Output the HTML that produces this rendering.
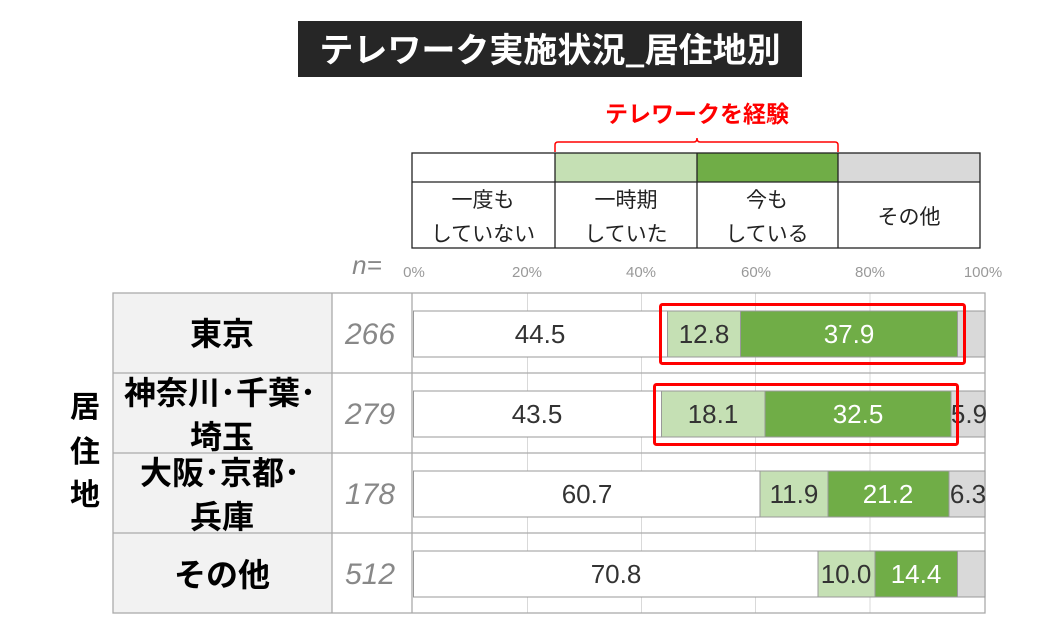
<!DOCTYPE html>
<html><head><meta charset="utf-8"><style>
html,body{margin:0;padding:0;background:#fff;}
svg{display:block;}
.jp{font-family:"Liberation Sans","Noto Sans CJK JP",sans-serif;}
</style></head><body>
<svg width="1053" height="629" viewBox="0 0 1053 629" xmlns="http://www.w3.org/2000/svg" class="jp">
<rect x="298" y="21" width="504" height="56" fill="#262626"/>
<text x="550" y="62" text-anchor="middle" font-size="34" font-weight="bold" fill="#fff" font-family="Noto Sans CJK JP, sans-serif">テレワーク実施状況_居住地別</text>
<text x="697" y="122" text-anchor="middle" font-size="23" font-weight="bold" fill="#f00" font-family="Noto Sans CJK JP, sans-serif">テレワークを経験</text>
<path d="M555,152 L555,145 Q555,142 558,142 L694,142 Q697,142 697,138 Q697,142 700,142 L835,142 Q838,142 838,145 L838,152" fill="none" stroke="#f00" stroke-width="1.5"/>
<rect x="412" y="153" width="143" height="29" fill="#fff"/>
<rect x="555" y="153" width="142" height="29" fill="#c5e0b4"/>
<rect x="697" y="153" width="141" height="29" fill="#70ad47"/>
<rect x="838" y="153" width="142" height="29" fill="#d9d9d9"/>
<g stroke="#222" stroke-width="1.3" fill="none">
<rect x="412" y="153" width="568" height="95"/>
<line x1="412" y1="182" x2="980" y2="182"/>
<line x1="555" y1="153" x2="555" y2="248"/>
<line x1="697" y1="153" x2="697" y2="248"/>
<line x1="838" y1="153" x2="838" y2="248"/>
</g>
<g font-size="21" fill="#222" text-anchor="middle" font-family="Noto Sans CJK JP, sans-serif">
<text x="483" y="207">一度も</text><text x="483" y="241">していない</text>
<text x="626" y="207">一時期</text><text x="626" y="241">していた</text>
<text x="767" y="207">今も</text><text x="767" y="241">している</text>
<text x="909" y="224">その他</text>
</g>
<text x="367" y="274" text-anchor="middle" font-size="26" font-style="italic" fill="#888" font-family="Liberation Sans, sans-serif">n=</text>
<g font-size="15" fill="#999" text-anchor="middle" font-family="Liberation Sans, sans-serif">
<text x="414" y="277">0%</text><text x="527" y="277">20%</text><text x="641" y="277">40%</text><text x="756" y="277">60%</text><text x="870" y="277">80%</text><text x="983" y="277">100%</text>
</g>
<rect x="113" y="293" width="219" height="320" fill="#f2f2f2"/>
<g stroke="#d9d9d9" stroke-width="1">
<line x1="527.5" y1="293" x2="527.5" y2="613"/><line x1="641.5" y1="293" x2="641.5" y2="613"/><line x1="755.5" y1="293" x2="755.5" y2="613"/><line x1="870" y1="293" x2="870" y2="613"/>
</g>
<g stroke="#aaa" stroke-width="1.3" fill="none">
<rect x="113" y="293" width="872" height="320"/>
<line x1="113" y1="373" x2="985" y2="373"/><line x1="113" y1="453" x2="985" y2="453"/><line x1="113" y1="533" x2="985" y2="533"/>
<line x1="332" y1="293" x2="332" y2="613"/><line x1="412" y1="293" x2="412" y2="613"/>
</g>
<g font-weight="bold" font-size="32" fill="#000" text-anchor="middle" font-family="Noto Sans CJK JP, sans-serif">
<text x="222" y="345">東京</text>
<text x="220" y="404">神奈川･千葉･</text><text x="222" y="448">埼玉</text>
<text x="220" y="484">大阪･京都･</text><text x="222" y="528">兵庫</text>
<text x="222" y="586">その他</text>
<text x="85" y="417" font-size="30">居</text><text x="85" y="462" font-size="30">住</text><text x="85" y="505" font-size="30">地</text>
</g>
<g font-size="30" font-style="italic" fill="#888" text-anchor="middle" font-family="Liberation Sans, sans-serif">
<text x="370" y="344">266</text><text x="370" y="424">279</text><text x="370" y="504">178</text><text x="370" y="584">512</text>
</g>
<g stroke="#999" stroke-width="1">
<rect x="413.5" y="311" width="254" height="46" fill="#fff"/>
<rect x="667.5" y="311" width="73" height="46" fill="#c5e0b4"/>
<rect x="740.5" y="311" width="217" height="46" fill="#70ad47"/>
<rect x="957.5" y="311" width="27.5" height="46" fill="#d9d9d9"/>
<rect x="413.5" y="391" width="248" height="46" fill="#fff"/>
<rect x="661.5" y="391" width="103.5" height="46" fill="#c5e0b4"/>
<rect x="765" y="391" width="186" height="46" fill="#70ad47"/>
<rect x="951" y="391" width="34" height="46" fill="#d9d9d9"/>
<rect x="413.5" y="471" width="346.5" height="46" fill="#fff"/>
<rect x="760" y="471" width="68" height="46" fill="#c5e0b4"/>
<rect x="828" y="471" width="121" height="46" fill="#70ad47"/>
<rect x="949" y="471" width="36" height="46" fill="#d9d9d9"/>
<rect x="413.5" y="551" width="404.5" height="46" fill="#fff"/>
<rect x="818" y="551" width="57" height="46" fill="#c5e0b4"/>
<rect x="875" y="551" width="82.5" height="46" fill="#70ad47"/>
<rect x="957.5" y="551" width="27.5" height="46" fill="#d9d9d9"/>
</g>
<g font-size="26" fill="#333" text-anchor="middle" font-family="Liberation Sans, sans-serif">
<text x="540" y="343">44.5</text><text x="704" y="343">12.8</text><text x="849" y="343" fill="#fff">37.9</text>
<text x="537" y="423">43.5</text><text x="713" y="423">18.1</text><text x="858" y="423" fill="#fff">32.5</text><text x="969" y="423">5.9</text>
<text x="587" y="503">60.7</text><text x="794" y="503">11.9</text><text x="888" y="503" fill="#fff">21.2</text><text x="968" y="503">6.3</text>
<text x="616" y="583">70.8</text><text x="846" y="583">10.0</text><text x="916" y="583" fill="#fff">14.4</text>
</g>
<g stroke="#f00" stroke-width="3" fill="none">
<rect x="660.5" y="304.5" width="304" height="59" rx="2"/>
<rect x="654.5" y="384.5" width="303" height="60" rx="2"/>
</g>
</svg>
</body></html>
